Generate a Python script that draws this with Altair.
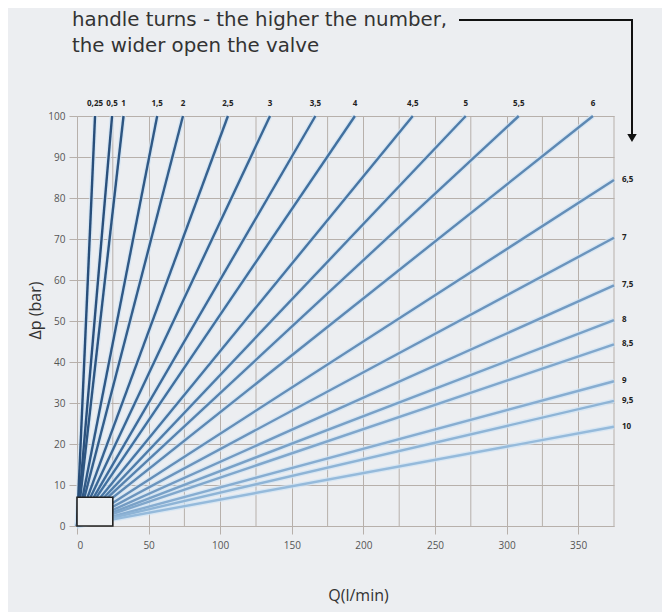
import altair as alt
import pandas as pd

# ---- data ----
turns = [0.25, 0.5, 1, 1.5, 2, 2.5, 3, 3.5, 4, 4.5, 5, 5.5, 6,
         6.5, 7, 7.5, 8, 8.5, 9, 9.5, 10]
labels = ["0,25", "0,5", "1", "1,5", "2", "2,5", "3", "3,5", "4", "4,5", "5", "5,5", "6",
          "6,5", "7", "7,5", "8", "8,5", "9", "9,5", "10"]
end_q = [12.6, 24.5, 32.5, 56.0, 74.0, 105.4, 134.8, 166.5, 194.1, 234.5, 271.5, 308.5, 360.3,
         375, 375, 375, 375, 375, 375, 375, 375]
end_dp = [100, 100, 100, 100, 100, 100, 100, 100, 100, 100, 100, 100, 100,
          84.4, 70.3, 58.7, 50.2, 44.3, 35.3, 30.5, 24.2]

x_ticks = [0, 50, 100, 150, 200, 250, 300, 350]
x_minor = [25, 75, 125, 175, 225, 275, 325, 375]
y_ticks = [0, 10, 20, 30, 40, 50, 60, 70, 80, 90, 100]

box_q = [0, 25]
box_dp = [0, 7]

note_lines = ["handle turns - the higher the number,", "the wider open the valve"]

# ---- tables ----
rows = []
for t, lab, q, p in zip(turns, labels, end_q, end_dp):
    rows.append({"turn": t, "label": lab, "Q": 0.0, "dp": 0.0, "o": 0})
    rows.append({"turn": t, "label": lab, "Q": q, "dp": p, "o": 1})
lines_df = pd.DataFrame(rows)
ends_df = pd.DataFrame({"turn": turns, "label": labels, "Q": end_q, "dp": end_dp})
top_df = ends_df[ends_df["dp"] >= 100]
right_df = ends_df[ends_df["dp"] < 100]
minor_df = pd.DataFrame({"Q": x_minor})
box_df = pd.DataFrame({"Q": [box_q[0]], "Q1": [box_q[1]], "dp": [box_dp[0]], "dp1": [box_dp[1]]})
one = pd.DataFrame({"a": [0]})

BG = "#eceef1"
GRID = "#b7b0ab"

xs = alt.Scale(domain=[0, 375], nice=False)
ys = alt.Scale(domain=[0, 100], nice=False)

x_axis = alt.Axis(values=x_ticks, title="Q(l/min)", grid=True, gridColor=GRID,
                  domainColor=GRID, tickColor=GRID, tickSize=8,
                  labelFont="Open Sans", labelFontSize=10, labelColor="#555555",
                  labelPadding=6,
                  titleFont="Open Sans", titleFontSize=16, titleFontWeight="normal",
                  titleColor="#333333", titleX=281, titleY=69, titleBaseline="middle")
y_axis = alt.Axis(values=y_ticks, title="Δp (bar)", grid=True, gridColor=GRID,
                  domainColor=GRID, tickColor=GRID, tickSize=8,
                  labelFont="Open Sans", labelFontSize=10, labelColor="#555555",
                  labelPadding=4,
                  titleFont="Open Sans", titleFontSize=16, titleFontWeight="normal",
                  titleColor="#333333", titleX=-42, titleY=194, titleAngle=-90,
                  titleAlign="center", titleBaseline="middle")

X = lambda f="Q": alt.X(f"{f}:Q", scale=xs, axis=x_axis, title="Q(l/min)")
Y = lambda f="dp": alt.Y(f"{f}:Q", scale=ys, axis=y_axis, title="Δp (bar)")

color = alt.Color("turn:Q", legend=None,
                  scale=alt.Scale(domain=[0.25, 4, 10], range=["#284e7a", "#41709f", "#95badb"]))

minor = alt.Chart(minor_df).mark_rule(color=GRID, strokeWidth=1).encode(x=X())

halo = alt.Chart(lines_df).mark_line(strokeWidth=5, color="#cfe2f3", opacity=0.7).encode(
    x=X(), y=Y(), detail="turn:N", order="o:Q",
)

lines = alt.Chart(lines_df).mark_line(strokeWidth=2.4).encode(
    x=X(), y=Y(), color=color, detail="turn:N", order="o:Q",
)

box = alt.Chart(box_df).mark_rect(fill="#eef0f2", stroke="#222222", strokeWidth=1.6).encode(
    x=X(), x2="Q1:Q", y=Y(), y2="dp1:Q",
)

top_lab = alt.Chart(top_df).mark_text(fontSize=8, fontWeight="bold", color="#222222",
                                      font="Open Sans", dy=-12, align="center").encode(
    x=X(), y=Y(), text="label:N"
)

right_lab = alt.Chart(right_df).mark_text(fontSize=8, fontWeight="bold", color="#222222",
                                          font="Open Sans", dx=8, align="left").encode(
    x=X(), y=Y(), text="label:N"
)

note1 = alt.Chart(one).mark_text(text=note_lines[0], fontSize=19.8, font="DejaVu Sans",
                                 color="#333333", align="left", baseline="middle").encode(
    x=alt.value(-5), y=alt.value(-96))
note2 = alt.Chart(one).mark_text(text=note_lines[1], fontSize=19.8, font="DejaVu Sans",
                                 color="#333333", align="left", baseline="middle").encode(
    x=alt.value(-5), y=alt.value(-70))

arrow_h = alt.Chart(one).mark_rule(color="#111111", strokeWidth=2).encode(
    x=alt.value(382), x2=alt.value(556), y=alt.value(-96))
arrow_v = alt.Chart(one).mark_rule(color="#111111", strokeWidth=2).encode(
    x=alt.value(555), y=alt.value(-96), y2=alt.value(20))
arrow_head = alt.Chart(one).mark_point(shape="triangle-down", filled=True, color="#111111",
                                       size=90, opacity=1).encode(
    x=alt.value(555), y=alt.value(22))

chart = alt.layer(
    minor, halo, lines, box, top_lab, right_lab, note1, note2, arrow_h, arrow_v, arrow_head
).properties(
    width=537, height=410,
    autosize=alt.AutoSizeParams(type="none"),
    padding={"left": 69, "top": 108, "right": 48, "bottom": 86},
    background=BG,
).configure_view(stroke=None, fill=BG)

chart.save("out.html", embed_options={"renderer": "svg", "actions": False})
